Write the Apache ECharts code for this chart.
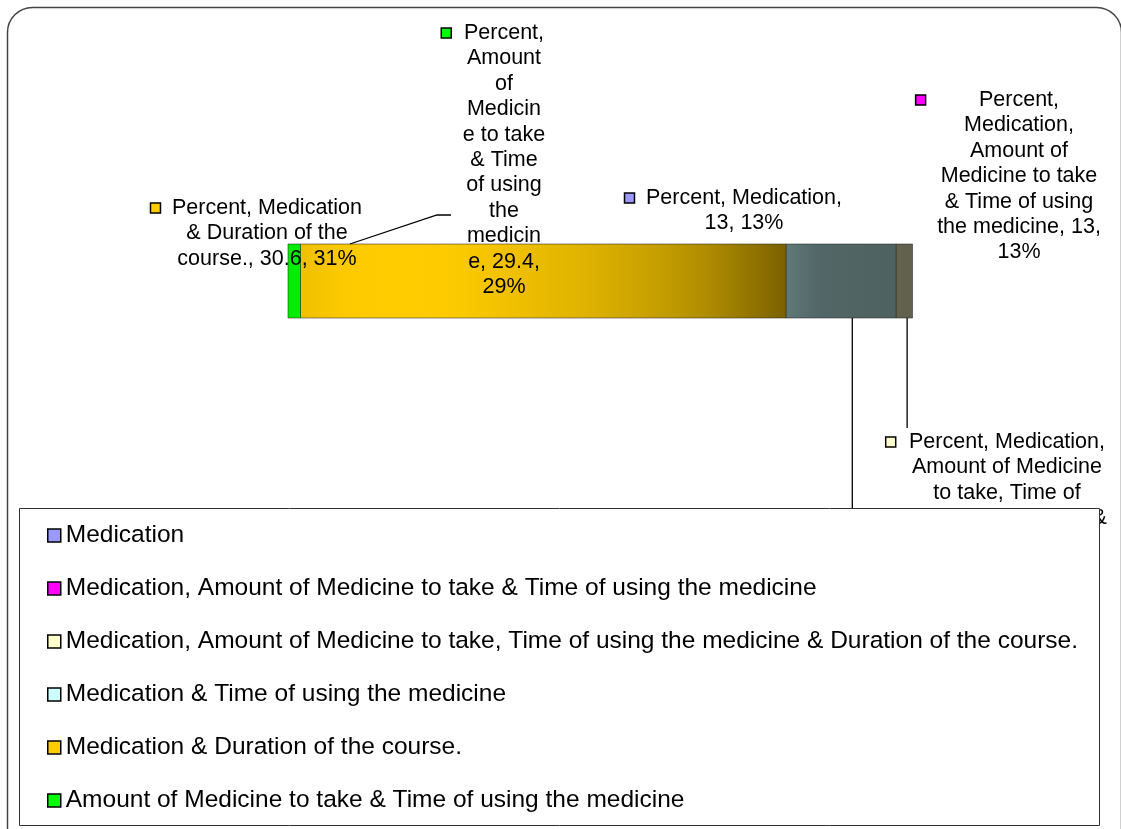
<!DOCTYPE html>
<html>
<head>
<meta charset="utf-8">
<script src="https://cdn.jsdelivr.net/npm/echarts@6.0.0/dist/echarts.min.js"></script>
<style>
  html, body { margin: 0; padding: 0; background: #fff; }
  #chart { width: 1121px; height: 829px; }
</style>
</head>
<body>
<div id="chart"></div>
<script>
const seriesName = "Percent";
const categories = [
  "Medication",
  "Medication, Amount of Medicine to take & Time of using the medicine",
  "Medication, Amount of Medicine to take, Time of using the medicine & Duration of the course.",
  "Medication & Time of using the medicine",
  "Medication & Duration of the course.",
  "Amount of Medicine to take & Time of using the medicine",
];
const percentValues = [13, 13, 4.4, 9.6, 30.6, 29.4];
const sliceColors = ["#9999ff", "#ff00ff", "#ffffcc", "#ccffff", "#ffcc00", "#00ff00"];

// where each data label sits: centre x, first line centre y, wrap width (em)
const labelLayout = [
  { x: 744, y: 198, wrap: 9.8 },
  { x: 1019, y: 100, wrap: 7.9 },
  { x: 1007, y: 442, wrap: 9.42, leaderTo: 428 },
  { x: 850, y: 562, wrap: 9.4, leaderTo: 548 },
  { x: 267, y: 208, wrap: 9.1 },
  { x: 504, y: 33, wrap: 3.92, elbow: [437, 215], end: [451, 215] },
];

const START_ANGLE = 269.6; // pie seen edge-on, angle where the first slice starts
const FONT = '"Liberation Sans", Arial, sans-serif';
const LABEL_SIZE = 21.5;
const LINE_H = 25.4;
// light falloff across the cylinder face
const SHADE = [[-1, 0.92], [-0.8, 1.0], [-0.5, 1.0], [0, 0.86], [0.3, 0.72], [0.59, 0.48], [0.7, 0.4], [1, 0.38]];

const total = percentValues.reduce((a, b) => a + b, 0);
const rad = Math.PI / 180;

const measureCtx = document.createElement("canvas").getContext("2d");
measureCtx.font = LABEL_SIZE + "px " + FONT;
function textWidth(s) {
  return measureCtx.measureText(s).width;
}

function wrapText(text, maxW) {
  const words = text.split(" ");
  const lines = [];
  let line = "";
  words.forEach((word) => {
    let w = word;
    const test = line ? line + " " + w : w;
    if (textWidth(test) <= maxW) {
      line = test;
      return;
    }
    if (line) lines.push(line);
    line = "";
    while (textWidth(w) > maxW) {
      let k = w.length;
      while (k > 1 && textWidth(w.slice(0, k)) > maxW) k--;
      lines.push(w.slice(0, k));
      w = w.slice(k);
    }
    line = w;
  });
  if (line) lines.push(line);
  return lines;
}

function shadeAt(u) {
  for (let i = 1; i < SHADE.length; i++) {
    if (u <= SHADE[i][0]) {
      const [u0, f0] = SHADE[i - 1];
      const [u1, f1] = SHADE[i];
      return f0 + ((f1 - f0) * (u - u0)) / (u1 - u0);
    }
  }
  return SHADE[SHADE.length - 1][1];
}

function scaleColor(hex, f) {
  const n = parseInt(hex.slice(1), 16);
  const r = Math.round(((n >> 16) & 255) * f);
  const g = Math.round(((n >> 8) & 255) * f);
  const b = Math.round((n & 255) * f);
  return "rgb(" + r + "," + g + "," + b + ")";
}

function shadedFill(hex, uL, uR) {
  const stops = [];
  for (let s = 0; s <= 12; s++) {
    const t = s / 12;
    stops.push({ offset: t, color: scaleColor(hex, shadeAt(uL + (uR - uL) * t)) });
  }
  return { type: "linear", x: 0, y: 0, x2: 1, y2: 0, colorStops: stops, global: false };
}

function renderSlice(params, api) {
  const i = params.seriesIndex;
  let a0 = START_ANGLE;
  for (let j = 0; j < i; j++) a0 += (percentValues[j] / total) * 360;
  const a1 = a0 + (api.value(0) / total) * 360;
  const children = [];

  // only the front half of the rim is seen
  for (let k = 0; k < 3; k++) {
    const lo = Math.max(a0, 360 * k);
    const hi = Math.min(a1, 360 * k + 180);
    if (hi <= lo) continue;
    const uL = Math.cos(hi * rad);
    const uR = Math.cos(lo * rad);
    const p0 = api.coord([uL, 1]);
    const p1 = api.coord([uR, 0]);
    if (p1[0] - p0[0] < 1) continue;
    children.push({
      type: "rect",
      shape: { x: p0[0], y: p0[1], width: p1[0] - p0[0], height: p1[1] - p0[1] },
      style: { fill: shadedFill(sliceColors[i], uL, uR), stroke: "rgba(40,40,40,0.55)", lineWidth: 1 },
      z2: 1,
    });
  }

  // label
  const lay = labelLayout[i];
  const value = api.value(0);
  const pct = Math.round((value / total) * 100);
  const text = [seriesName, categories[i], value, pct + "%"].join(", ");
  const lines = wrapText(text, lay.wrap * LABEL_SIZE);
  const blockW = Math.max(...lines.map(textWidth));
  const left = lay.x - blockW / 2;

  const mid = (a0 + a1) / 2;
  const onFront = Math.sin(mid * rad) >= 0;
  const anchor = api.coord([Math.cos(mid * rad), onFront ? 0 : 1]);
  if (lay.leaderTo) {
    children.push({
      type: "line",
      shape: { x1: anchor[0], y1: anchor[1], x2: anchor[0], y2: lay.leaderTo },
      style: { stroke: "#000", lineWidth: 1.3 },
      z2: 5,
    });
  } else if (lay.elbow) {
    children.push({
      type: "polyline",
      shape: { points: [anchor, lay.elbow, lay.end] },
      style: { stroke: "#000", lineWidth: 1.3, fill: null },
      z2: 5,
    });
  }

  children.push({
    type: "rect",
    shape: { x: left - 11.5 - 10, y: lay.y - 5, width: 10, height: 10 },
    style: { fill: sliceColors[i], stroke: "#000", lineWidth: 1.5 },
    z2: 10,
  });
  children.push({
    type: "text",
    style: {
      text: lines.join("\n"),
      x: lay.x,
      y: lay.y - LINE_H / 2,
      align: "center",
      verticalAlign: "top",
      fontSize: LABEL_SIZE,
      fontFamily: FONT,
      lineHeight: LINE_H,
      fill: "#000",
    },
    z2: 10,
  });

  return { type: "group", children: children };
}

const chart = echarts.init(document.getElementById("chart"), null, { renderer: "canvas" });

chart.setOption({
  backgroundColor: "#fff",
  animation: false,
  grid: { left: 288, top: 244, width: 625, height: 74 },
  xAxis: { type: "value", min: -1, max: 1, show: false },
  yAxis: { type: "value", min: 0, max: 1, show: false },
  legend: {
    orient: "vertical",
    left: 47,
    top: 523,
    padding: 0,
    itemGap: 28,
    itemWidth: 13,
    itemHeight: 13,
    icon: "rect",
    selectedMode: false,
    z: 5,
    itemStyle: { borderColor: "#000", borderWidth: 1.5 },
    textStyle: { fontSize: 24.5, lineHeight: 25, color: "#000", fontFamily: FONT },
    data: categories.map((c, i) => ({ name: c, itemStyle: { color: sliceColors[i] } })),
  },
  graphic: [
    {
      type: "rect",
      z: 3,
      shape: { x: 19.5, y: 508.5, width: 1080, height: 317 },
      style: { fill: "#fff", stroke: "#333", lineWidth: 1 },
    },
    {
      type: "rect",
      z: 10,
      shape: { x: 7.5, y: 7.5, width: 1114, height: 860, r: 25 },
      style: { fill: null, stroke: "#444", lineWidth: 1.5 },
    },
  ],
  series: percentValues.map((v, i) => ({
    type: "custom",
    name: categories[i],
    coordinateSystem: "cartesian2d",
    silent: true,
    itemStyle: { color: sliceColors[i] },
    data: [[v]],
    renderItem: renderSlice,
  })),
});
</script>
</body>
</html>
